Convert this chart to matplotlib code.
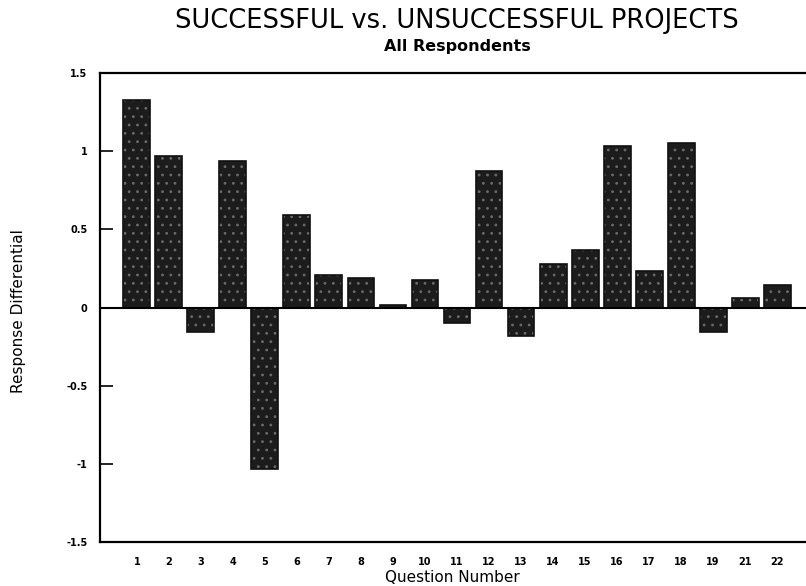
import matplotlib
matplotlib.use("Agg")
import matplotlib.pyplot as plt
import numpy as np

questions = ["1", "2", "3", "4", "5", "6", "7", "8", "9", "10", "11",
             "12", "13", "14", "15", "16", "17", "18", "19", "21", "22"]
differential = [1.33, 0.97, -0.155, 0.94, -1.03, 0.594, 0.207, 0.186, 0.015,
                0.178, -0.096, 0.872, -0.18, 0.28, 0.367, 1.034, 0.233, 1.05,
                -0.154, 0.062, 0.145]
yticks = [-1.5, -1, -0.5, 0, 0.5, 1, 1.5]
ytick_labels = ["-1.5", "-1", "-0.5", "0", "0.5", "1", "1.5"]

fig = plt.figure(figsize=(8.06, 5.86), dpi=100)
ax = fig.add_axes([100/806, 1-542/586, 1-100/806, (542-73)/586])

x = np.arange(len(questions))
plt.rcParams['hatch.color'] = '#6a6a6a'
plt.rcParams['hatch.linewidth'] = 0.8
ax.bar(x, differential, width=0.84, color='#1c1c1c', edgecolor='#6a6a6a',
       linewidth=0, hatch='..', zorder=2)
ax.bar(x, differential, width=0.84, fill=False, edgecolor='#111111',
       linewidth=1.2, zorder=3)
ax.axhline(0, color='black', linewidth=1.5, zorder=4)

ax.set_ylim(-1.5, 1.5)
ax.set_xlim(-1.15, 20.9)
ax.set_yticks(yticks)
ax.set_yticklabels(ytick_labels, fontsize=7, fontweight='bold')
ax.set_xticks(x)
ax.set_xticklabels(questions, fontsize=7, fontweight='bold')
ax.tick_params(axis='y', direction='in', length=9, width=1.2, pad=9)
ax.tick_params(axis='x', length=0, pad=11)

for s in ['left', 'bottom', 'top']:
    ax.spines[s].set_linewidth(1.6)
ax.spines['right'].set_visible(False)

fig.text(452/806, 1-577/586, "Question Number", fontsize=11,
         ha='center', va='center')
fig.text(19/806, 1-311/586, "Response Differential", fontsize=11,
         rotation=90, ha='center', va='center')

fig.text(457/806, 1-21/586, "SUCCESSFUL vs. UNSUCCESSFUL PROJECTS",
         fontsize=18.5, ha='center', va='center')
fig.text(457/806, 1-46/586, "All Respondents", fontsize=11.5,
         fontweight='bold', ha='center', va='center')

fig.savefig("out.png", dpi=100)
